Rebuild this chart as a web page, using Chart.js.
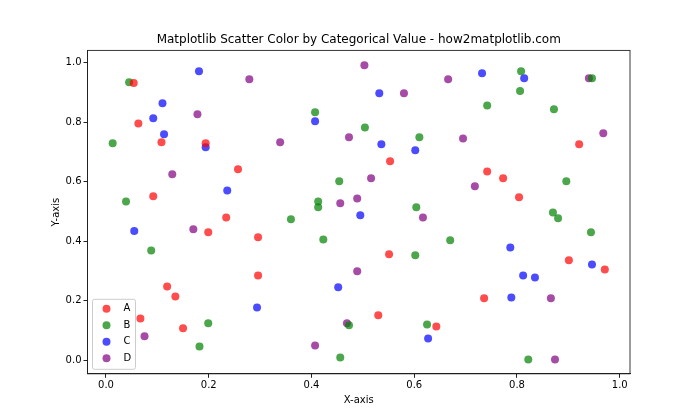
<!DOCTYPE html>
<html>
<head>
<meta charset="utf-8">
<script src="https://cdn.jsdelivr.net/npm/chart.js@4.4.1/dist/chart.umd.min.js"></script>
<style>
  body { margin: 0; background: #fff; }
  canvas { display: block; }
</style>
</head>
<body>
<canvas id="chart" width="700" height="420"></canvas>
<script>
// values
const categories = ["A", "B", "C", "D"];
const colors = ["rgba(255,0,0,0.7)", "rgba(0,128,0,0.7)", "rgba(0,0,255,0.7)", "rgba(128,0,128,0.7)"];
const chartTitle = "Matplotlib Scatter Color by Categorical Value - how2matplotlib.com";

const aX = [0.054, 0.063, 0.108, 0.194, 0.257, 0.092, 0.553, 0.921, 0.742, 0.773, 0.804, 0.234, 0.199, 0.296, 0.296, 0.119, 0.135, 0.067, 0.150, 0.551, 0.530, 0.643, 0.901, 0.971, 0.736];
const aY = [0.932, 0.796, 0.733, 0.730, 0.642, 0.551, 0.669, 0.726, 0.635, 0.612, 0.548, 0.480, 0.430, 0.413, 0.285, 0.248, 0.214, 0.140, 0.107, 0.356, 0.151, 0.113, 0.336, 0.305, 0.208];

const bX = [0.045, 0.013, 0.039, 0.407, 0.504, 0.610, 0.454, 0.413, 0.413, 0.604, 0.808, 0.946, 0.806, 0.742, 0.872, 0.896, 0.870, 0.880, 0.944, 0.088, 0.199, 0.182, 0.360, 0.423, 0.670, 0.602, 0.473, 0.625, 0.456, 0.822];
const bY = [0.935, 0.730, 0.534, 0.834, 0.783, 0.750, 0.602, 0.534, 0.514, 0.514, 0.972, 0.948, 0.905, 0.857, 0.844, 0.602, 0.497, 0.477, 0.430, 0.369, 0.124, 0.046, 0.474, 0.406, 0.403, 0.353, 0.117, 0.120, 0.009, 0.002];

const cX = [0.181, 0.110, 0.092, 0.113, 0.194, 0.236, 0.532, 0.407, 0.536, 0.602, 0.732, 0.814, 0.055, 0.294, 0.495, 0.452, 0.627, 0.787, 0.946, 0.812, 0.835, 0.789];
const cY = [0.972, 0.864, 0.814, 0.760, 0.716, 0.571, 0.898, 0.804, 0.726, 0.706, 0.965, 0.948, 0.434, 0.177, 0.487, 0.245, 0.073, 0.379, 0.322, 0.285, 0.278, 0.211];

const dX = [0.279, 0.178, 0.129, 0.503, 0.666, 0.580, 0.473, 0.339, 0.516, 0.456, 0.489, 0.940, 0.695, 0.968, 0.718, 0.170, 0.075, 0.617, 0.489, 0.469, 0.407, 0.866, 0.874];
const dY = [0.945, 0.827, 0.625, 0.992, 0.945, 0.898, 0.750, 0.733, 0.612, 0.528, 0.544, 0.948, 0.746, 0.763, 0.585, 0.440, 0.080, 0.480, 0.299, 0.124, 0.049, 0.208, 0.002];

const xTicks = [0.0, 0.2, 0.4, 0.6, 0.8, 1.0];
const yTicks = [0.0, 0.2, 0.4, 0.6, 0.8, 1.0];

const seriesX = [aX, bX, cX, dX];
const seriesY = [aY, bY, cY, dY];

const FONT = "'DejaVu Sans', sans-serif";

const datasets = categories.map((cat, i) => ({
  label: cat,
  data: seriesX[i].map((x, j) => ({ x: x, y: seriesY[i][j] })),
  backgroundColor: colors[i],
  borderWidth: 0,
  pointRadius: 4,
  pointHoverRadius: 4,
}));

// matplotlib draws a box on all four sides, and centres the title over the axes
const framePlugin = {
  id: "frame",
  afterDraw(chart) {
    const { ctx, chartArea: a } = chart;
    ctx.save();
    ctx.strokeStyle = "#222";
    ctx.lineWidth = 0.9;
    ctx.strokeRect(a.left, a.top, a.right - a.left, a.bottom - a.top);
    ctx.fillStyle = "#000";
    ctx.font = "12px " + FONT;
    ctx.textAlign = "center";
    ctx.textBaseline = "middle";
    ctx.fillText(chartTitle, (a.left + a.right) / 2, 40);
    ctx.restore();
  },
};

// legend in the lower left corner, inside the plot
const innerLegend = {
  id: "innerLegend",
  afterDraw(chart) {
    const { ctx, chartArea: a } = chart;
    const sets = chart.data.datasets;
    const left = a.left + 5, w = 43, rowH = 16.5;
    const h = sets.length * rowH + 4;
    const top = a.bottom - 4.5 - h;
    ctx.save();
    ctx.fillStyle = "rgba(255,255,255,0.8)";
    ctx.strokeStyle = "#cccccc";
    ctx.lineWidth = 1;
    ctx.beginPath();
    ctx.roundRect(left, top, w, h, 2);
    ctx.fill();
    ctx.stroke();
    ctx.font = "10px " + FONT;
    ctx.textBaseline = "middle";
    sets.forEach((ds, i) => {
      const y = top + 9.5 + i * rowH;
      ctx.fillStyle = ds.backgroundColor;
      ctx.beginPath();
      ctx.arc(left + 14, y, 4, 0, Math.PI * 2);
      ctx.fill();
      ctx.fillStyle = "#000";
      ctx.fillText(ds.label, left + 31, y);
    });
    ctx.restore();
  },
};

new Chart(document.getElementById("chart"), {
  type: "scatter",
  data: { datasets: datasets },
  options: {
    responsive: false,
    animation: false,
    devicePixelRatio: 1,
    layout: { padding: { left: 0, right: 70, top: 50.4, bottom: 0 } },
    plugins: {
      legend: { display: false },
      tooltip: { enabled: false },
      title: { display: false },
    },
    scales: {
      x: {
        type: "linear",
        min: -0.036,
        max: 1.02,
        afterBuildTicks: (scale) => { scale.ticks = xTicks.map((v) => ({ value: v })); },
        afterFit: (scale) => { scale.height = 46.2; },
        grid: { drawOnChartArea: false, drawTicks: true, tickLength: 4, color: "#222" },
        border: { color: "#222" },
        ticks: {
          color: "#000",
          padding: 2,
          font: { family: FONT, size: 10 },
          callback: (v) => Number(v).toFixed(1),
        },
        title: {
          display: true,
          text: "X-axis",
          color: "#000",
          font: { family: FONT, size: 10 },
          padding: { top: 0, bottom: 14 },
        },
      },
      y: {
        type: "linear",
        min: -0.046,
        max: 1.042,
        afterBuildTicks: (scale) => { scale.ticks = yTicks.map((v) => ({ value: v })); },
        afterFit: (scale) => { scale.width = 87.5; },
        grid: { drawOnChartArea: false, drawTicks: true, tickLength: 4, color: "#222" },
        border: { color: "#222" },
        ticks: {
          color: "#000",
          padding: 2,
          font: { family: FONT, size: 10 },
          callback: (v) => Number(v).toFixed(1),
        },
        title: {
          display: true,
          text: "Y-axis",
          color: "#000",
          font: { family: FONT, size: 10 },
          padding: { top: 50, bottom: 0 },
        },
      },
    },
  },
  plugins: [framePlugin, innerLegend],
});
</script>
</body>
</html>
